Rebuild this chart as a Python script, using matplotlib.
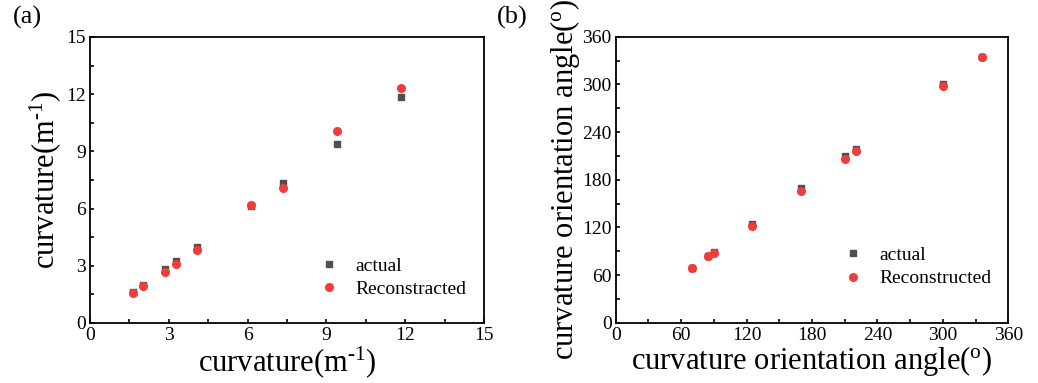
import numpy as np
import matplotlib
matplotlib.use('Agg')
import matplotlib.pyplot as plt
from matplotlib.ticker import MultipleLocator

plt.rcParams['font.family'] = ['Liberation Serif', 'DejaVu Serif']
plt.rcParams['mathtext.fontset'] = 'custom'
plt.rcParams['mathtext.rm'] = 'Liberation Serif'
plt.rcParams['mathtext.it'] = 'Liberation Serif:italic'

# panel (a): curvature (m^-1)
curv_actual_x = [1.62, 2.03, 2.87, 3.29, 4.09, 6.14, 7.36, 9.41, 11.85]
curv_actual_y = [1.61, 1.98, 2.82, 3.25, 4.00, 6.14, 7.33, 9.40, 11.84]
curv_recon_y = [1.57, 1.92, 2.67, 3.09, 3.85, 6.21, 7.10, 10.06, 12.34]

# panel (b): curvature orientation angle (deg)
ang_actual_x = [70.0, 84.6, 89.8, 125.0, 170.0, 210.5, 220.3, 300.4, 335.6]
ang_actual_y = [68.9, 84.4, 88.6, 124.3, 169.6, 210.0, 219.2, 300.2, 334.6]
ang_recon_y = [68.5, 84.0, 88.2, 121.5, 165.6, 205.8, 216.0, 298.0, 334.6]

sq_color = '#4f4f4f'
ci_color = '#f03c3c'

fig = plt.figure(figsize=(10.38, 3.83), dpi=100)
ax1 = fig.add_axes([0.0867, 0.1567, 0.3796, 0.7467])
ax2 = fig.add_axes([0.5932, 0.1574, 0.3782, 0.7467])


def style(ax, lim, major, minor):
    ax.set_xlim(0, lim)
    ax.set_ylim(0, lim)
    ax.xaxis.set_major_locator(MultipleLocator(major))
    ax.yaxis.set_major_locator(MultipleLocator(major))
    ax.xaxis.set_minor_locator(MultipleLocator(minor))
    ax.yaxis.set_minor_locator(MultipleLocator(minor))
    ax.tick_params(which='both', direction='in', length=3, width=1.2,
                   labelsize=14, top=False, right=False)
    ax.tick_params(axis='x', pad=3)
    ax.tick_params(axis='y', pad=3)
    for s in ax.spines.values():
        s.set_linewidth(1.3)


inv_m = 'curvature(m$^{\\text{-1}}$)'
deg = 'curvature orientation angle($^{\\text{o}}$)'

ax1.plot(curv_actual_x, curv_actual_y, 's', color=sq_color, ms=5, label='actual')
ax1.plot(curv_actual_x, curv_recon_y, 'o', color=ci_color, ms=5.5, label='Reconstracted')
style(ax1, 15, 3, 1.5)
ax1.set_xlabel(inv_m, fontsize=22, labelpad=0)
ax1.set_ylabel(inv_m, fontsize=22, labelpad=2)
ax1.legend(loc='center left', bbox_to_anchor=(0.582, 0.159), frameon=False,
           fontsize=14, borderpad=0, borderaxespad=0, handlelength=1.0,
           handletextpad=0.85, labelspacing=0.3)

ax2.plot(ang_actual_x, ang_actual_y, 's', color=sq_color, ms=5, label='actual')
ax2.plot(ang_actual_x, ang_recon_y, 'o', color=ci_color, ms=5.5, label='Reconstructed')
style(ax2, 360, 60, 30)
ax2.set_xlabel(deg, fontsize=22, labelpad=0)
ax2.set_ylabel(deg, fontsize=22, labelpad=0)
ax2.legend(loc='center left', bbox_to_anchor=(0.579, 0.195), frameon=False,
           fontsize=14, borderpad=0, borderaxespad=0, handlelength=1.0,
           handletextpad=0.85, labelspacing=0.3)

fig.text(0.012, 0.955, '(a)', fontsize=19, va='center', ha='left')
fig.text(0.479, 0.955, '(b)', fontsize=19, va='center', ha='left')

fig.savefig('out.png', dpi=100)
